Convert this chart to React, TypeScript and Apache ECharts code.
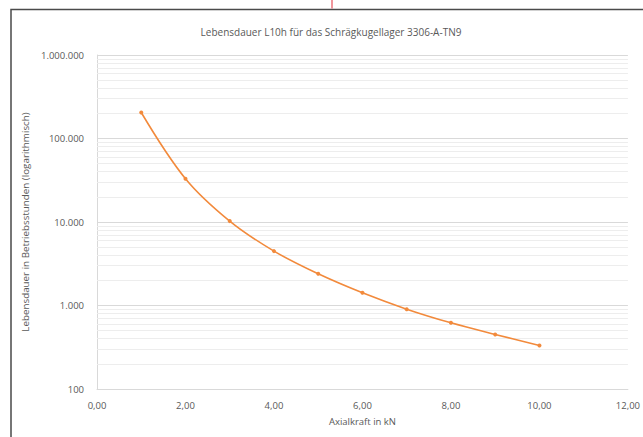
import React, { useEffect, useRef } from "react";
import * as echarts from "echarts";

const axialForce = [1, 2, 3, 4, 5, 6, 7, 8, 9, 10];
const lifeHours = [205000, 33000, 10250, 4480, 2395, 1418, 904, 620, 450, 332];
const majorTicks = [100, 1000, 10000, 100000, 1000000];
const minorGrid = [
  200, 300, 400, 500, 600, 700, 800, 900,
  2000, 3000, 4000, 5000, 6000, 7000, 8000, 9000,
  20000, 30000, 40000, 50000, 60000, 70000, 80000, 90000,
  200000, 300000, 400000, 500000, 600000, 700000, 800000, 900000,
];
const titleText = "Lebensdauer L10h für das Schrägkugellager 3306-A-TN9";
const yName = "Lebensdauer in Betriebsstunden (logarithmisch)";
const xName = "Axialkraft in kN";

const FONT = "'Open Sans', sans-serif";
const TXT = "#595959";

function deThousands(v: number): string {
  return String(Math.round(v)).replace(/\B(?=(\d{3})+(?!\d))/g, ".");
}

export default function App() {
  const ref = useRef<HTMLDivElement>(null);
  useEffect(() => {
    if (!ref.current) return;
    const chart = echarts.init(ref.current, undefined, { renderer: "svg" });
    chart.setOption({
      animation: false,
      backgroundColor: "#ffffff",
      textStyle: { fontFamily: FONT },
      title: {
        text: titleText,
        left: 331,
        top: 27,
        padding: 0,
        textAlign: "center",
        textStyle: { fontFamily: FONT, fontSize: 10, fontWeight: "normal", color: TXT },
      },
      grid: { left: 97, right: 10, top: 55, bottom: 48, containLabel: false },
      xAxis: {
        type: "value",
        min: 0,
        max: 12,
        interval: 2,
        name: xName,
        nameLocation: "middle",
        nameGap: 27,
        nameTextStyle: { fontFamily: FONT, fontSize: 9.5, color: TXT },
        axisLine: { show: true, lineStyle: { color: "#d9d9d9", width: 1 } },
        axisTick: { show: false },
        splitLine: { show: false },
        axisLabel: {
          margin: 11,
          fontFamily: FONT,
          fontSize: 9.5,
          color: TXT,
          formatter: (v: number) => v.toFixed(2).replace(".", ","),
        },
      },
      yAxis: {
        type: "log",
        logBase: 10,
        min: majorTicks[0],
        max: majorTicks[majorTicks.length - 1],
        name: yName,
        nameLocation: "middle",
        nameGap: 66,
        nameTextStyle: { fontFamily: FONT, fontSize: 9.8, color: TXT },
        axisLine: { show: true, lineStyle: { color: "#d9d9d9", width: 1 } },
        axisTick: { show: false },
        splitLine: { show: true, lineStyle: { color: "#d9d9d9", width: 1 } },
        axisLabel: {
          margin: 13,
          fontFamily: FONT,
          fontSize: 9.5,
          color: TXT,
          formatter: (v: number) => deThousands(v),
        },
      },
      series: [
        {
          type: "line",
          name: "minorGrid",
          data: [],
          z: 1,
          silent: true,
          markLine: {
            silent: true,
            z: 1,
            symbol: ["none", "none"],
            label: { show: false },
            lineStyle: { color: "#ededed", width: 1, type: "solid" },
            data: minorGrid.map((v) => ({ yAxis: v })),
          },
        },
        {
          type: "line",
          name: "L10h",
          z: 10,
          smooth: 0.35,
          data: axialForce.map((x, i) => [x, lifeHours[i]]),
          symbol: "circle",
          symbolSize: 4,
          itemStyle: { color: "#F28A3C" },
          lineStyle: { color: "#F28A3C", width: 1.6 },
        },
      ],
      graphic: [
        {
          type: "polyline",
          silent: true,
          shape: { points: [[11, 437], [11, 9.5], [643, 9.5]] },
          style: { stroke: "#4a4a4a", lineWidth: 1.5, fill: null },
        },
        {
          type: "line",
          silent: true,
          shape: { x1: 332, y1: 0, x2: 332, y2: 8.5 },
          style: { stroke: "#e8505a", lineWidth: 1.2 },
        },
      ],
    });
    return () => chart.dispose();
  }, []);
  return (
    <div
      ref={ref}
      style={{ position: "absolute", left: 0, top: 0, width: 643, height: 437 }}
    />
  );
}
